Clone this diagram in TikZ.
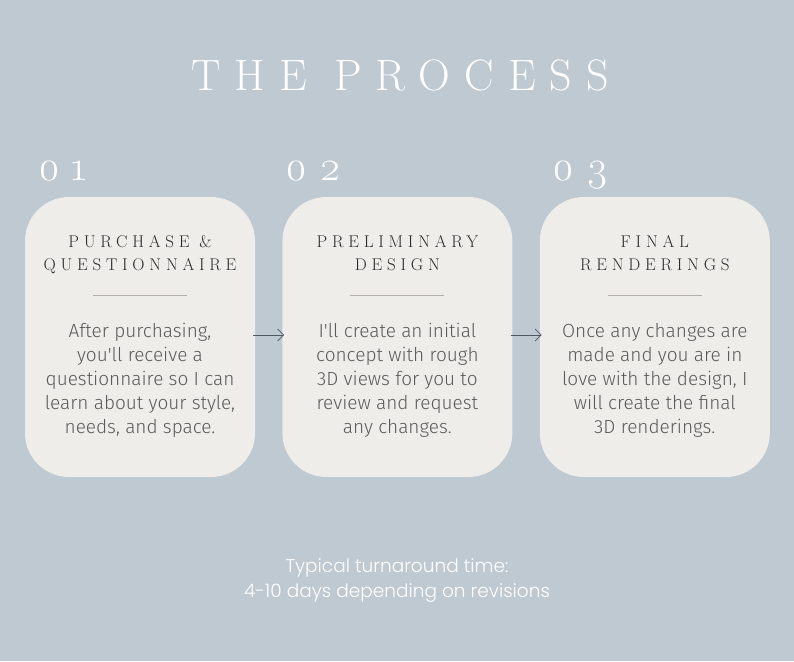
\documentclass[tikz,border=0pt]{standalone}
\usepackage{fontspec}
\usetikzlibrary{positioning,arrows.meta}
\setmainfont{Latin Modern Roman}
\newfontfamily\headfont[LetterSpace=28]{Latin Modern Roman}
\newfontfamily\titlefont[LetterSpace=32]{Latin Modern Roman}
\newfontfamily\bodyfont{Fira Sans Light}
\newfontfamily\footfont{Poppins Light}
\definecolor{bg}{HTML}{BEC9D2}
\definecolor{card}{HTML}{EEEDE9}
\definecolor{headtext}{HTML}{2A2A2A}
\definecolor{bodytext}{HTML}{5A5A5A}
\definecolor{rulegray}{HTML}{B3AFAA}
\definecolor{arrowgray}{HTML}{4F5862}

\begin{document}
\begin{tikzpicture}[x=1pt,y=-1pt,
    card/.style={fill=card, rounded corners=44pt, minimum width=230pt, minimum height=280pt, inner sep=0pt},
    titletext/.style={text=white, inner sep=0pt, font=\titlefont\fontsize{44}{44}\selectfont},
    stepnum/.style={text=white, anchor=base west, inner sep=0pt, font=\fontsize{42}{42}\selectfont},
    heading/.style={text=headtext, align=center, anchor=north, inner sep=0pt, font=\headfont\fontsize{17}{23}\selectfont},
    body/.style={text=bodytext, align=center, anchor=north, inner sep=0pt, font=\bodyfont\fontsize{19}{24}\selectfont},
    foot/.style={text=white, align=center, inner sep=0pt, font=\footfont\fontsize{18.5}{25}\selectfont},
    rule/.style={draw=rulegray, line width=0.8pt},
    flow/.style={draw=arrowgray, line width=0.7pt, -{Straight Barb[length=6pt,width=12pt]}, shorten <=-2pt, shorten >=-2pt}]
    \fill[bg] (0,0) rectangle (794,661);
    \useasboundingbox (0,0) rectangle (794,661);
    \node[titletext] (title) at (400,75) {THE PROCESS};
    \node[card] (b1) at (140,337) {};
    \node[card, right=27pt of b1] (b2) {};
    \node[card, right=27pt of b2] (b3) {};
    \foreach \b/\dx/\h/\t in {
        1/13pt/{PURCHASE \&\\QUESTIONNAIRE}/{After purchasing,\\you'll receive a\\questionnaire so I can\\learn about your style,\\needs, and space.},
        2/3pt/{PRELIMINARY\\DESIGN}/{I'll create an initial\\concept with rough\\3D views for you to\\review and request\\any changes.},
        3/13pt/{FINAL\\RENDERINGS}/{Once any changes are\\made and you are in\\love with the design, I\\will create the final\\3D renderings.}}
    {
        \node[stepnum] (n\b) at ([xshift=\dx,yshift=16pt]b\b.north west) {\oldstylenums{0}\hspace{12pt}\oldstylenums{\b}};
        \node[heading] (h\b) at ([yshift=-38pt]b\b.north) {\h};
        \draw[rule] ([xshift=-47pt,yshift=-99pt]b\b.north) -- ++(94,0);
        \node[body] (t\b) at ([yshift=-126pt]b\b.north) {\t};
    }
    \draw[flow] ([yshift=2pt]b1.east) -- ([yshift=2pt]b2.west);
    \draw[flow] ([yshift=2pt]b2.east) -- ([yshift=2pt]b3.west);
    \node[foot] (note) at (397,581) {Typical turnaround time:\\4-10 days depending on revisions};
\end{tikzpicture}
\end{document}
